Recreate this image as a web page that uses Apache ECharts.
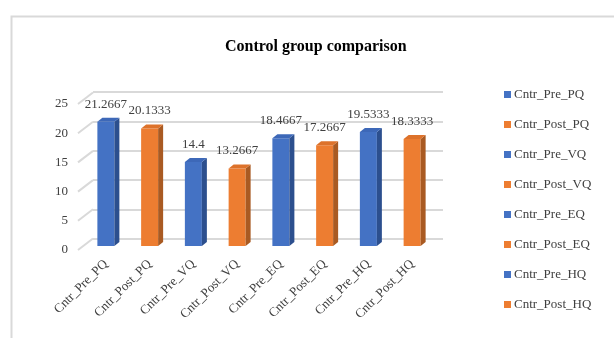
<!DOCTYPE html>
<html>
<head>
<meta charset="utf-8">
<style>
  html, body { margin: 0; padding: 0; background: #fff; }
  #chart { width: 614px; height: 338px; }
</style>
<script src="https://cdn.jsdelivr.net/npm/echarts@6/dist/echarts.min.js"></script>
</head>
<body>
<div id="chart"></div>
<script>
// Group means for the control group, before and after
const categories = ['Cntr_Pre_PQ', 'Cntr_Post_PQ', 'Cntr_Pre_VQ', 'Cntr_Post_VQ',
                    'Cntr_Pre_EQ', 'Cntr_Post_EQ', 'Cntr_Pre_HQ', 'Cntr_Post_HQ'];
const values = [21.2667, 20.1333, 14.4, 13.2667, 18.4667, 17.2667, 19.5333, 18.3333];
const valueLabels = ['21.2667', '20.1333', '14.4', '13.2667', '18.4667', '17.2667', '19.5333', '18.3333'];
const yTicks = [0, 5, 10, 15, 20, 25];

const FONT = '"Liberation Serif", "Times New Roman", serif';
const TEXT = '#404040';
const GRID = '#d9d9d9';

// front / top / side shades of each column
const shades = {
  pre:  { front: '#4472C4', top: '#3D68B8', side: '#2C4F8E' },
  post: { front: '#ED7D31', top: '#DD722B', side: '#A95A22' }
};
const shadeOf = i => (i % 2 === 0 ? shades.pre : shades.post);

const BAR_W = 17, DEPTH_X = 5, DEPTH_Y = 4;

function renderColumn(params, api) {
  const idx = api.value(0);
  const top = api.coord([idx, api.value(1)]);
  const base = api.coord([idx, 0]);
  const c = shadeOf(idx);
  const x0 = top[0] - BAR_W / 2, x1 = x0 + BAR_W;
  return {
    type: 'group',
    children: [
      { type: 'rect', shape: { x: x0, y: top[1], width: BAR_W, height: base[1] - top[1] },
        style: { fill: c.front } },
      { type: 'polygon', shape: { points: [[x1, top[1]], [x1 + DEPTH_X, top[1] - DEPTH_Y],
                                           [x1 + DEPTH_X, base[1] - DEPTH_Y], [x1, base[1]]] },
        style: { fill: c.side } },
      { type: 'polygon', shape: { points: [[x0, top[1]], [x0 + DEPTH_X, top[1] - DEPTH_Y],
                                           [x1 + DEPTH_X, top[1] - DEPTH_Y], [x1, top[1]]] },
        style: { fill: c.top } },
      { type: 'text', style: { text: valueLabels[idx], x: top[0], y: top[1] - DEPTH_Y - 7,
                               align: 'center', verticalAlign: 'bottom',
                               font: '13px ' + FONT, fill: TEXT } }
    ]
  };
}

// floor-to-wall connectors of the horizontal gridlines
function renderConnector(params, api) {
  const y = api.coord([0, api.value(0)])[1];
  const x = params.coordSys.x;
  return { type: 'line', shape: { x1: x, y1: y, x2: x + 15, y2: y - 11.5 },
           style: { stroke: GRID, lineWidth: 2 } };
}

const columnSeries = categories.map((name, i) => ({
  name: name,
  type: 'custom',
  xAxisIndex: 0, yAxisIndex: 0,
  renderItem: renderColumn,
  itemStyle: { color: shadeOf(i).front },
  data: [[i, values[i]]],
  z: 5
}));

const chart = echarts.init(document.getElementById('chart'), null, { renderer: 'canvas' });
chart.setOption({
  animation: false,
  backgroundColor: '#fff',
  graphic: [{
    type: 'rect', left: 9, top: 14, shape: { width: 700, height: 400 },
    style: { fill: 'none', stroke: GRID, lineWidth: 2 }, silent: true, z: 0
  }],
  title: {
    text: 'Control group comparison',
    left: 220, top: 34,
    textStyle: { fontFamily: FONT, fontSize: 16, fontWeight: 'bold', color: '#000' }
  },
  legend: {
    orient: 'vertical', left: 499, top: 83,
    itemWidth: 7, itemHeight: 7, itemGap: 17, icon: 'rect',
    data: categories,
    textStyle: { fontFamily: FONT, fontSize: 13, color: TEXT, padding: [0, 0, 0, -2] }
  },
  grid: [
    { left: 84, top: 100, width: 350, height: 146 },   // column plane
    { left: 78, top: 104, width: 350, height: 146 },   // front edge of the floor
    { left: 93, top: 92, width: 350, height: 147 }     // back wall
  ],
  xAxis: [
    { type: 'category', gridIndex: 0, data: categories,
      axisLine: { show: false }, axisTick: { show: false },
      axisLabel: { interval: 0, rotate: 45, margin: 16, fontFamily: FONT, fontSize: 13, color: TEXT } },
    { type: 'category', gridIndex: 1, data: categories, show: false },
    { type: 'category', gridIndex: 2, data: categories, show: false }
  ],
  yAxis: [
    { type: 'value', gridIndex: 0, min: 0, max: 25, interval: 5, show: false },
    { type: 'value', gridIndex: 1, min: 0, max: 25, interval: 5,
      axisLine: { show: false }, axisTick: { show: false }, splitLine: { show: false },
      axisLabel: { margin: 10, fontFamily: FONT, fontSize: 13, color: TEXT } },
    { type: 'value', gridIndex: 2, min: 0, max: 25, interval: 5,
      axisLine: { show: false }, axisTick: { show: false }, axisLabel: { show: false },
      splitLine: { show: true, lineStyle: { color: GRID, width: 2 } } }
  ],
  series: [
    { type: 'custom', name: 'gridConnectors', xAxisIndex: 1, yAxisIndex: 1, silent: true,
      renderItem: renderConnector, data: yTicks.map(v => [v]), z: 1 }
  ].concat(columnSeries)
});
</script>
</body>
</html>
